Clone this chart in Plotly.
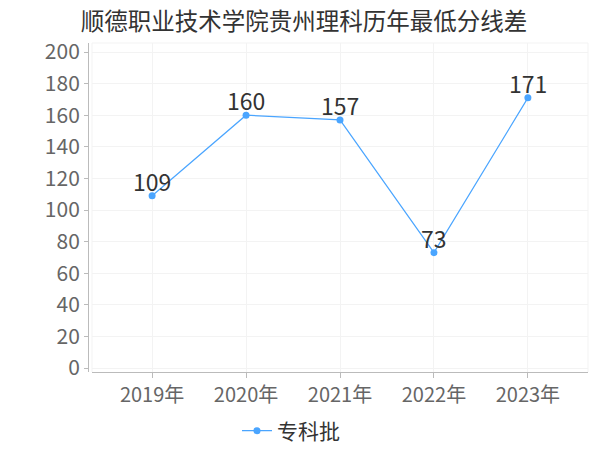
import plotly.graph_objects as go

years = ["2019年", "2020年", "2021年", "2022年", "2023年"]
values = [109, 160, 157, 73, 171]
series_name = "专科批"
y_ticks = [0, 20, 40, 60, 80, 100, 120, 140, 160, 180, 200]

FONT = "Noto Sans CJK SC, Noto Sans, sans-serif"
LINE_COLOR = "#4aa5ff"

# page has an 8px body margin; figure is sized so that it fills the 600x450 window
W, H = 592, 442
L, R, T, B = 80, 12, 35, 78
PW = W - L - R
PH = H - T - B

fig = go.Figure()
fig.add_trace(go.Scatter(
    x=list(range(len(years))), y=values, name=series_name,
    mode="lines+markers",
    line=dict(color=LINE_COLOR, width=1.2),
    marker=dict(color=LINE_COLOR, size=7),
    cliponaxis=False,
))

for i, v in enumerate(values):
    fig.add_annotation(x=i, y=v, text=str(v), showarrow=False, xanchor="center",
                       yanchor="middle", yshift=15,
                       font=dict(size=23, color="#333333", family=FONT))

fig.update_layout(
    width=W, height=H,
    margin=dict(l=L, r=R, t=T, b=B, autoexpand=False),
    paper_bgcolor="white", plot_bgcolor="white",
    font=dict(family=FONT),
    title=dict(text="顺德职业技术学院贵州理科历年最低分线差", x=0.5, xanchor="center",
               y=1 - 14 / H, yanchor="middle", yref="container",
               font=dict(size=23.5, color="#333333", family=FONT)),
    showlegend=True,
    legend=dict(orientation="h", x=(229 - L) / PW, xanchor="left",
                y=-(423 - (H - B)) / PH, yanchor="middle", yref="paper",
                font=dict(size=21, color="#333333", family=FONT),
                itemwidth=30),
    xaxis=dict(
        domain=[0.008, 1], range=[-0.64, 4.64],
        tickvals=list(range(len(years))), ticktext=years,
        showline=True, linecolor="#bbbbbb", linewidth=1,
        ticks="outside", ticklen=5, tickcolor="#bbbbbb",
        showgrid=True, gridcolor="#f3f3f3", zeroline=False,
        tickfont=dict(size=20, color="#666666", family=FONT),
        automargin=False,
    ),
    yaxis=dict(
        anchor="free", position=0,
        range=[-2.53, 205.7], tickvals=y_ticks,
        showline=True, linecolor="#bbbbbb", linewidth=1,
        ticks="outside", ticklen=4, tickcolor="#bbbbbb",
        showgrid=True, gridcolor="#f3f3f3", zeroline=False,
        tickfont=dict(size=21, color="#666666", family=FONT),
        automargin=False,
    ),
)

# light plot border
for x0, x1, y0, y1 in [(1, 1, 0, 1), (0, 0, 0, 1), (0, 1, 1, 1)]:
    fig.add_shape(type="line", xref="x domain", yref="y domain", x0=x0, x1=x1, y0=y0, y1=y1,
                  line=dict(color="#f3f3f3", width=1))

fig.write_html("out.html")
